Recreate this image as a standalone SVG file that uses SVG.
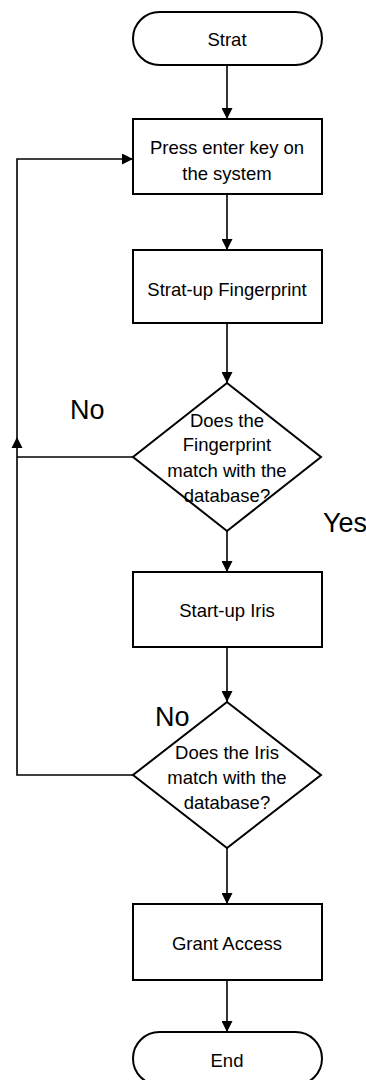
<svg xmlns="http://www.w3.org/2000/svg" width="366" height="1080" viewBox="0 0 366 1080">
<style>
.shape{fill:#fff;stroke:#000;stroke-width:2}
.lbl{font-family:"Liberation Sans",Arial,sans-serif;font-size:18.5px;fill:#000;text-anchor:middle;dominant-baseline:central}
.big{font-family:"Liberation Sans",Arial,sans-serif;font-size:27px;fill:#000}
.conn{fill:none;stroke:#000;stroke-width:1.6}
</style>
<defs>
<marker id="arr" markerWidth="11" markerHeight="11" refX="11" refY="5.5" orient="auto" markerUnits="userSpaceOnUse">
<path d="M0,0 L11,5.5 L0,11 Z" fill="#000"/>
</marker>
</defs>
<rect width="366" height="1080" fill="#fff"/>
<g id="connectors">
<line class="conn" x1="227" y1="65" x2="227" y2="119" marker-end="url(#arr)"/>
<line class="conn" x1="227" y1="194" x2="227" y2="250" marker-end="url(#arr)"/>
<line class="conn" x1="227" y1="323" x2="227" y2="383" marker-end="url(#arr)"/>
<line class="conn" x1="227" y1="531" x2="227" y2="572" marker-end="url(#arr)"/>
<line class="conn" x1="227" y1="647" x2="227" y2="702" marker-end="url(#arr)"/>
<line class="conn" x1="227" y1="848" x2="227" y2="904" marker-end="url(#arr)"/>
<line class="conn" x1="227" y1="980" x2="227" y2="1032" marker-end="url(#arr)"/>
<path class="conn" d="M133,775 H17 V159 H133" marker-end="url(#arr)"/>
<line class="conn" x1="133" y1="457" x2="17" y2="457"/>
<path d="M11.5,448 L17,437 L22.5,448 Z" fill="#000"/>
<text class="big" x="70" y="419">No</text>
<text class="big" x="155" y="726">No</text>
<text class="big" x="323" y="532" font-size="24">Yes</text>
</g>
<g id="start">
<rect class="shape" x="133" y="12" width="189" height="53" rx="26.5"/>
<text class="lbl" x="227" y="39">Strat</text>
</g>
<g id="press-enter">
<rect class="shape" x="133" y="119" width="189" height="75"/>
<text class="lbl" x="227" y="147">Press enter key on</text>
<text class="lbl" x="227" y="173">the system</text>
</g>
<g id="startup-fingerprint">
<rect class="shape" x="133" y="250" width="189" height="73"/>
<text class="lbl" x="227" y="289">Strat-up Fingerprint</text>
</g>
<g id="fingerprint-match">
<polygon class="shape" points="227,383 321,457 227,531 133,457"/>
<text class="lbl" x="227" y="420">Does the</text>
<text class="lbl" x="227" y="444">Fingerprint</text>
<text class="lbl" x="227" y="470">match with the</text>
<text class="lbl" x="227" y="495">database?</text>
</g>
<g id="startup-iris">
<rect class="shape" x="133" y="572" width="189" height="75"/>
<text class="lbl" x="227" y="610">Start-up Iris</text>
</g>
<g id="iris-match">
<polygon class="shape" points="227,702 321,775 227,848 133,775"/>
<text class="lbl" x="227" y="752">Does the Iris</text>
<text class="lbl" x="227" y="777">match with the</text>
<text class="lbl" x="227" y="802">database?</text>
</g>
<g id="grant-access">
<rect class="shape" x="133" y="904" width="189" height="76"/>
<text class="lbl" x="227" y="943">Grant Access</text>
</g>
<g id="end">
<rect class="shape" x="133" y="1032" width="189" height="53" rx="26.5"/>
<text class="lbl" x="227" y="1060">End</text>
</g>
</svg>
